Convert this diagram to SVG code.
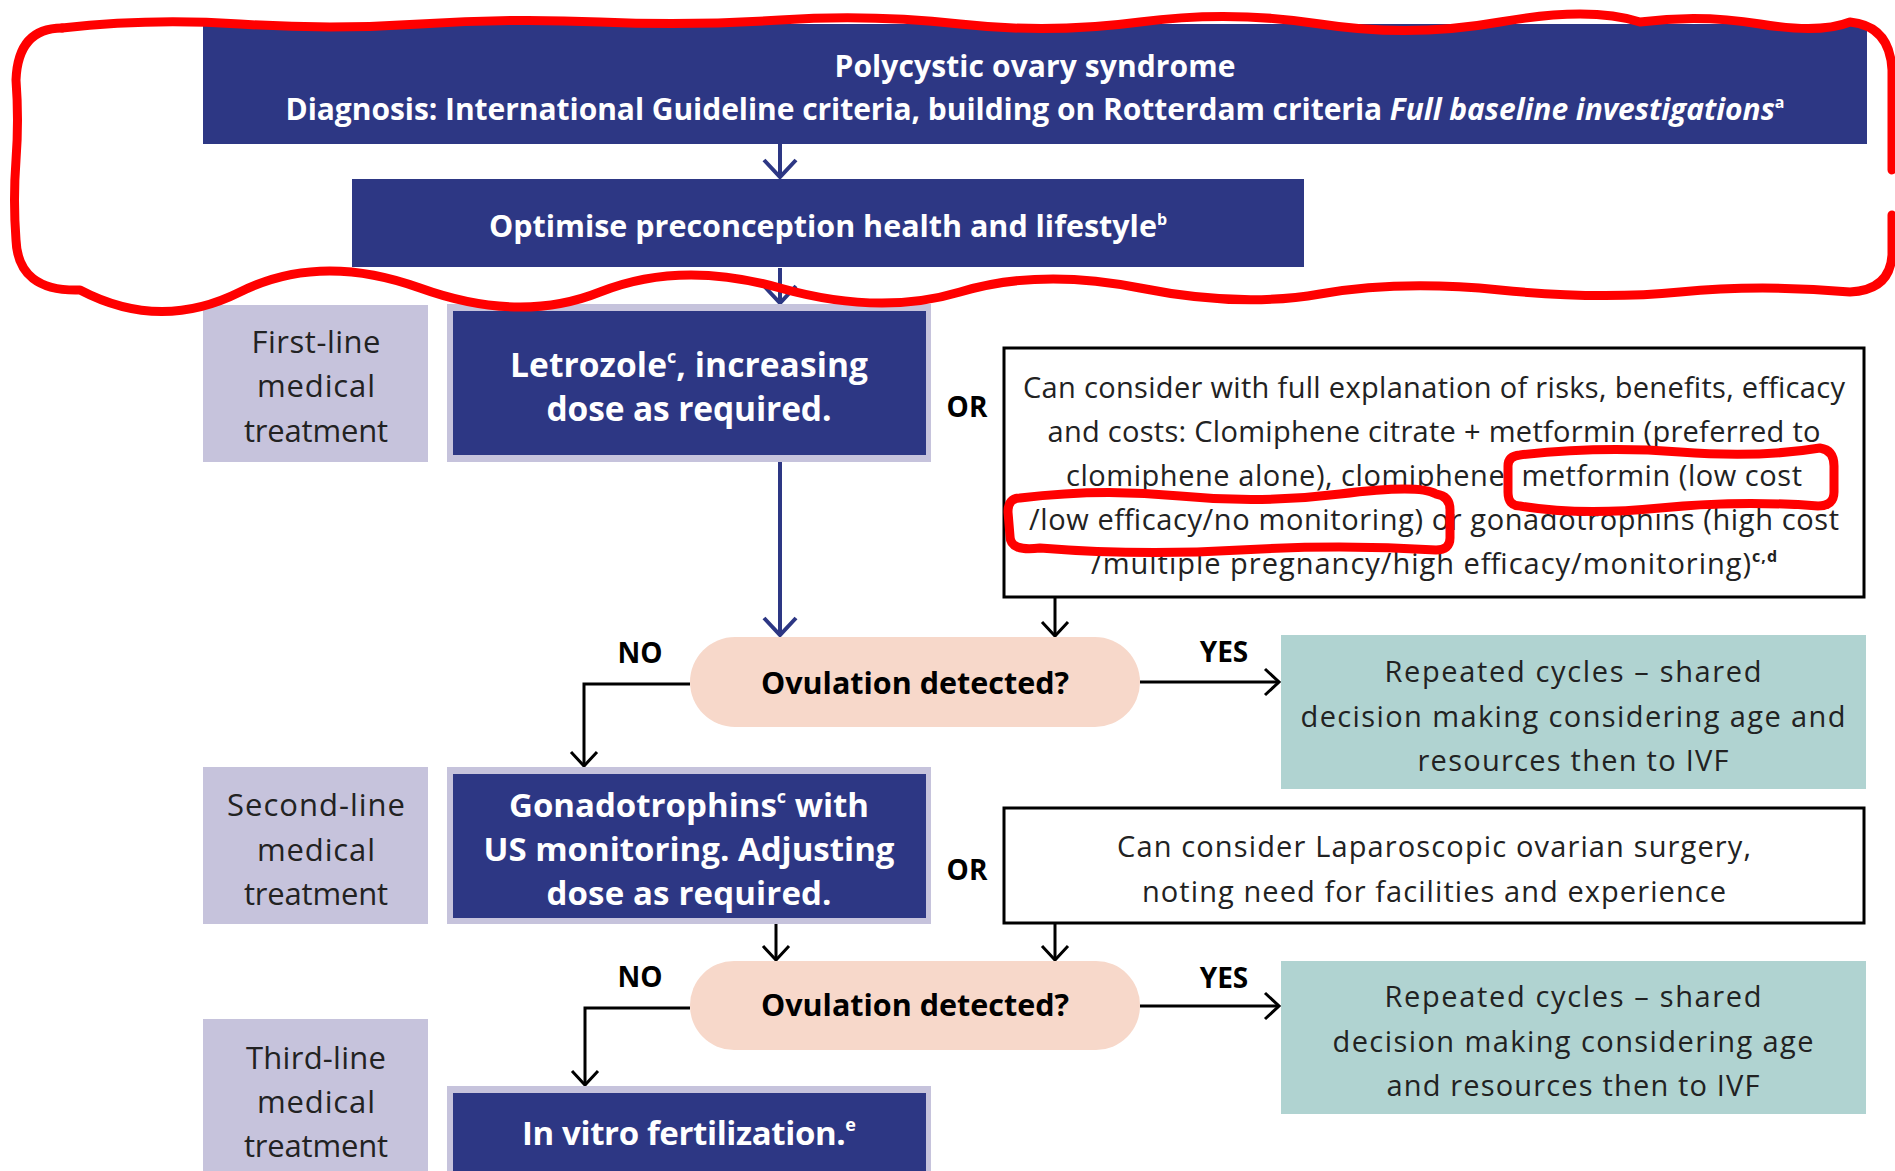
<svg xmlns="http://www.w3.org/2000/svg" width="1895" height="1171" viewBox="0 0 1895 1171">
<style>
text{font-family:"Open Sans","Liberation Sans",sans-serif}
.navy{fill:#2D3784}
.frame{fill:#C6C3DC}
.lab{fill:#C6C3DC}
.pill{fill:#F7D8CA}
.teal{fill:#B0D3D1}
.wt{fill:#fff;font-weight:700;text-anchor:middle}
.bt{fill:#000;font-weight:700;text-anchor:middle}
.rt{fill:#222;text-anchor:middle;font-size:29px}
.lt{fill:#222;text-anchor:middle;font-size:31px}
.box{fill:#fff;stroke:#000;stroke-width:3}
.cn{fill:none;stroke:#2D3784;stroke-width:4}
.ck{fill:none;stroke:#000;stroke-width:3}
.red{fill:none;stroke:#FF0000;stroke-width:9;stroke-linejoin:round;stroke-linecap:round}
</style>
<defs>
<marker id="an" markerUnits="userSpaceOnUse" markerWidth="40" markerHeight="40" orient="auto" overflow="visible"><path d="M-17,-16 L0,0 L-17,16" fill="none" stroke="#2D3784" stroke-width="4"/></marker>
<marker id="ak" markerUnits="userSpaceOnUse" markerWidth="40" markerHeight="40" orient="auto" overflow="visible"><path d="M-14,-13 L0,0 L-14,13" fill="none" stroke="#000" stroke-width="3"/></marker>
</defs>

<g id="connectors">
<path class="cn" d="M780 144 V177" marker-end="url(#an)"/>
<path class="cn" d="M780 268 V303" marker-end="url(#an)"/>
<path class="cn" d="M780 462 V635" marker-end="url(#an)"/>
<path class="ck" d="M1055 597 V636" marker-end="url(#ak)"/>
<path class="ck" d="M690 684 H584 V766" marker-end="url(#ak)"/>
<path class="ck" d="M1140 682 H1279" marker-end="url(#ak)"/>
<path class="ck" d="M776 924 V960" marker-end="url(#ak)"/>
<path class="ck" d="M1055 923 V960" marker-end="url(#ak)"/>
<path class="ck" d="M690 1008 H585 V1085" marker-end="url(#ak)"/>
<path class="ck" d="M1140 1006 H1279" marker-end="url(#ak)"/>
</g>

<g id="pcos">
<rect class="navy" x="203" y="24" width="1664" height="120"/>
<text class="wt" x="1035" y="77" font-size="30" textLength="401" lengthAdjust="spacing">Polycystic ovary syndrome</text>
<text class="wt" x="1035" y="120" font-size="30" textLength="1499" lengthAdjust="spacing">Diagnosis: International Guideline criteria, building on Rotterdam criteria <tspan font-style="italic">Full baseline investigations</tspan><tspan font-size="16" dy="-12">a</tspan></text>
</g>

<g id="optimise">
<rect class="navy" x="352" y="179" width="952" height="88"/>
<text class="wt" x="828" y="237" font-size="30.5" textLength="678" lengthAdjust="spacing">Optimise preconception health and lifestyle<tspan font-size="16" dy="-12">b</tspan></text>
</g>

<g id="first-line">
<rect class="lab" x="203" y="305" width="225" height="157"/>
<text class="lt" x="316" y="353" textLength="129" lengthAdjust="spacing">First-line</text>
<text class="lt" x="316" y="397" textLength="118" lengthAdjust="spacing">medical</text>
<text class="lt" x="316" y="442" textLength="144" lengthAdjust="spacing">treatment</text>
</g>

<g id="letrozole">
<rect class="frame" x="447" y="304" width="484" height="158"/>
<rect class="navy" x="453" y="311" width="473" height="144"/>
<text class="wt" x="689" y="377" font-size="33.5" textLength="358" lengthAdjust="spacing">Letrozole<tspan font-size="18" dy="-14">c</tspan><tspan dy="14">, increasing</tspan></text>
<text class="wt" x="689" y="421" font-size="33.5" textLength="285" lengthAdjust="spacing">dose as required.</text>
</g>

<g id="or1"><text class="bt" x="967" y="417" font-size="28">OR</text></g>

<g id="alternatives">
<rect class="box" x="1004" y="348" width="860" height="249"/>
<text class="rt" x="1434" y="398" textLength="822" lengthAdjust="spacing">Can consider with full explanation of risks, benefits, efficacy</text>
<text class="rt" x="1434" y="442" textLength="773" lengthAdjust="spacing">and costs: Clomiphene citrate + metformin (preferred to</text>
<text class="rt" x="1434" y="486" textLength="736" lengthAdjust="spacing">clomiphene alone), clomiphene, metformin (low cost</text>
<text class="rt" x="1434" y="530" textLength="810" lengthAdjust="spacing">/low efficacy/no monitoring) or gonadotrophins (high cost</text>
<text class="rt" x="1434" y="574" textLength="686" lengthAdjust="spacing">/multiple pregnancy/high efficacy/monitoring)<tspan font-size="16" dy="-12" font-weight="700">c,d</tspan></text>
</g>

<g id="ovulation1">
<rect class="pill" x="690" y="637" width="450" height="90" rx="45"/>
<text class="bt" x="915" y="694" font-size="30.5">Ovulation detected?</text>
</g>
<g id="no1"><text class="bt" x="640" y="663" font-size="28">NO</text></g>
<g id="yes1"><text class="bt" x="1224" y="662" font-size="28">YES</text></g>

<g id="repeat1">
<rect class="teal" x="1281" y="635" width="585" height="154"/>
<text class="rt" x="1573" y="682" textLength="377" lengthAdjust="spacing">Repeated cycles – shared</text>
<text class="rt" x="1573" y="727" textLength="545" lengthAdjust="spacing">decision making considering age and</text>
<text class="rt" x="1573" y="771" textLength="311" lengthAdjust="spacing">resources then to IVF</text>
</g>

<g id="second-line">
<rect class="lab" x="203" y="767" width="225" height="157"/>
<text class="lt" x="316" y="816" textLength="178" lengthAdjust="spacing">Second-line</text>
<text class="lt" x="316" y="861" textLength="118" lengthAdjust="spacing">medical</text>
<text class="lt" x="316" y="905" textLength="144" lengthAdjust="spacing">treatment</text>
</g>

<g id="gonadotrophins">
<rect class="frame" x="447" y="767" width="484" height="157"/>
<rect class="navy" x="453" y="774" width="473" height="144"/>
<text class="wt" x="689" y="817" font-size="33" textLength="360" lengthAdjust="spacing">Gonadotrophins<tspan font-size="18" dy="-14">c</tspan><tspan dy="14"> with</tspan></text>
<text class="wt" x="689" y="861" font-size="33" textLength="411" lengthAdjust="spacing">US monitoring. Adjusting</text>
<text class="wt" x="689" y="905" font-size="33" textLength="285" lengthAdjust="spacing">dose as required.</text>
</g>

<g id="or2"><text class="bt" x="967" y="880" font-size="28">OR</text></g>

<g id="laparoscopic">
<rect class="box" x="1004" y="808" width="860" height="115"/>
<text class="rt" x="1434" y="857" textLength="634" lengthAdjust="spacing">Can consider Laparoscopic ovarian surgery,</text>
<text class="rt" x="1434" y="902" textLength="584" lengthAdjust="spacing">noting need for facilities and experience</text>
</g>

<g id="ovulation2">
<rect class="pill" x="690" y="961" width="450" height="89" rx="44"/>
<text class="bt" x="915" y="1016" font-size="30.5">Ovulation detected?</text>
</g>
<g id="no2"><text class="bt" x="640" y="987" font-size="28">NO</text></g>
<g id="yes2"><text class="bt" x="1224" y="988" font-size="28">YES</text></g>

<g id="repeat2">
<rect class="teal" x="1281" y="961" width="585" height="153"/>
<text class="rt" x="1573" y="1007" textLength="377" lengthAdjust="spacing">Repeated cycles – shared</text>
<text class="rt" x="1573" y="1052" textLength="481" lengthAdjust="spacing">decision making considering age</text>
<text class="rt" x="1573" y="1096" textLength="373" lengthAdjust="spacing">and resources then to IVF</text>
</g>

<g id="third-line">
<rect class="lab" x="203" y="1019" width="225" height="160"/>
<text class="lt" x="316" y="1069" textLength="140" lengthAdjust="spacing">Third-line</text>
<text class="lt" x="316" y="1113" textLength="118" lengthAdjust="spacing">medical</text>
<text class="lt" x="316" y="1157" textLength="144" lengthAdjust="spacing">treatment</text>
</g>

<g id="ivf">
<rect class="frame" x="447" y="1086" width="484" height="100"/>
<rect class="navy" x="453" y="1093" width="473" height="90"/>
<text class="wt" x="689" y="1145" font-size="33" textLength="334" lengthAdjust="spacing">In vitro fertilization.<tspan font-size="18" dy="-14">e</tspan></text>
</g>

<g id="annotations">
<path class="red" d="M62 28 Q150 18 240 24 T420 24 T600 22 T780 20 T960 24 T1140 22 T1320 24 T1500 22 T1640 22 Q1700 14 1760 24 T1850 22 Q1890 26 1892 70 L1892 170"/>
<path class="red" d="M1892 215 L1892 255 Q1890 290 1850 292 Q1760 284 1680 292 T1500 290 T1320 294 T1140 288 T960 292 T780 288 T600 292 T420 288 T240 292 T80 290 Q18 292 16 240 Q13 200 16 160 T16 80 Q18 28 62 28"/>
<path class="red" d="M1520 455 Q1600 446 1680 452 T1820 448 Q1834 450 1834 466 L1834 492 Q1834 506 1818 506 Q1740 500 1660 508 T1520 506 Q1508 506 1508 492 L1508 466 Q1508 456 1520 455"/>
<path class="red" d="M1020 498 Q1100 488 1180 496 T1340 494 T1436 494 Q1450 496 1450 510 L1450 538 Q1450 550 1436 550 Q1340 544 1240 550 T1040 548 Q1010 552 1010 536 L1008 512 Q1008 498 1020 498"/>
</g>
</svg>
